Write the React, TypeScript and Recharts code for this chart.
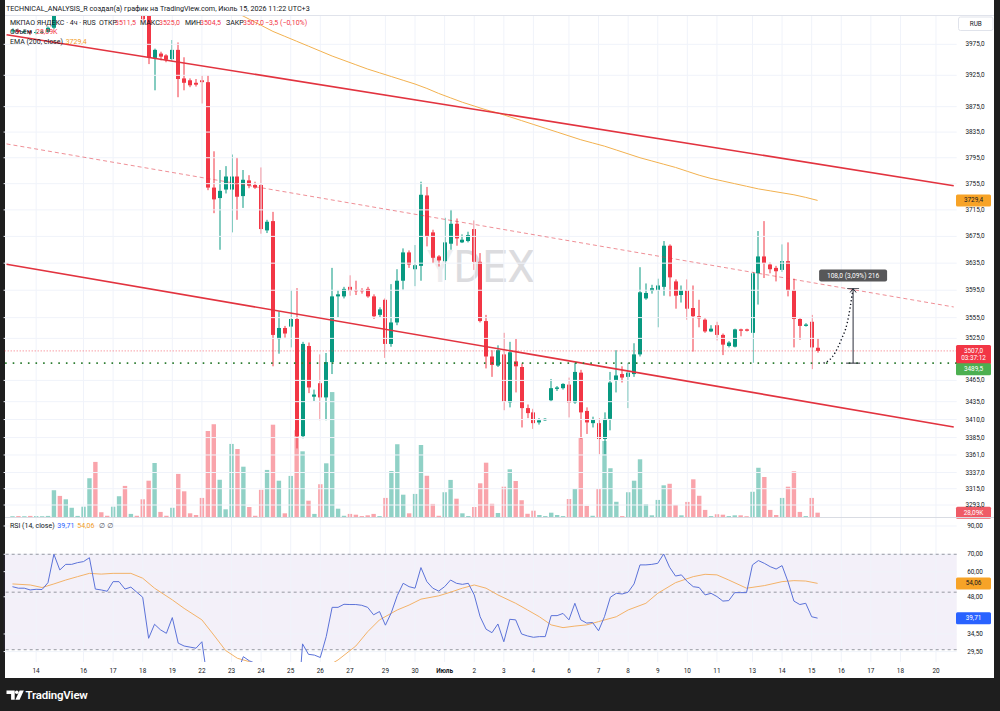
import React from 'react';
import {
  ComposedChart,
  Bar,
  Line,
  XAxis,
  YAxis,
  ReferenceLine,
  ReferenceArea,
} from 'recharts';

const FONT = 'Roboto, "Noto Sans", "DejaVu Sans", sans-serif';
const TEXT = '#131722';
const GREEN = '#089981';
const RED = '#f23645';
const VOL_GREEN = 'rgba(8,153,129,0.45)';
const VOL_RED = 'rgba(242,54,69,0.45)';
const EMA_COLOR = '#f2b14f';
const ORANGE_BADGE = '#f7a327';
const RSI_COLOR = '#5b72d8';
const RSI_MA_COLOR = '#f3b268';
const GRID = '#f0f3fa';
const TREND = '#e2333f';

// ---- 4h candles, YDEX (index 0 .. 136) ----
const OPEN = [
  3996, 3998, 3995, 3996, 3994, 3995, 3995, 4002, 4075, 4045,
  4060, 4061, 4064, 4068, 4080, 4040, 4038, 4036, 4048, 4049,
  4040, 4043, 4038, 4022, 3953, 3960, 3957, 3951, 3966, 3920,
  3917, 3913, 3917, 3914, 3749, 3733, 3746, 3746, 3766, 3736,
  3760, 3753, 3753, 3684, 3698, 3524, 3540, 3542, 3553, 3387,
  3514, 3442, 3461, 3441, 3491, 3586, 3586, 3600, 3595, 3595,
  3597, 3586, 3559, 3581, 3517, 3548, 3609, 3651, 3626, 3631,
  3737, 3681, 3645, 3638, 3664, 3694, 3666, 3668, 3686, 3637,
  3550, 3499, 3486, 3502, 3434, 3492, 3484, 3426, 3420, 3406,
  3409, 3437, 3453, 3454, 3459, 3434, 3476, 3422, 3405, 3405,
  3383, 3411, 3465, 3474, 3470, 3474, 3502, 3583, 3594, 3595,
  3600, 3661, 3608, 3588, 3595, 3569, 3557, 3552, 3535, 3544,
  3530, 3514, 3513, 3538, 3538, 3533, 3620, 3645, 3633, 3628,
  3625, 3638, 3595, 3553, 3543, 3549, 3511.5,
];
const HIGH = [
  4001, 4000, 3999, 3998, 3999, 3998, 4004, 4085, 4080, 4066,
  4066, 4067, 4072, 4088, 4082, 4044, 4041, 4052, 4054, 4052,
  4046, 4045, 4042, 4028, 3968, 3963, 3959, 3982, 3978, 3954,
  3920, 3919, 3925, 3925, 3805, 3776, 3782, 3800, 3795, 3776,
  3768, 3758, 3780, 3700, 3712, 3564, 3543, 3595, 3598, 3520,
  3519, 3452, 3502, 3504, 3628, 3595, 3600, 3617, 3609, 3598,
  3600, 3589, 3570, 3583, 3604, 3626, 3657, 3654, 3662, 3758,
  3750, 3685, 3647, 3703, 3715, 3702, 3678, 3682, 3699, 3650,
  3559, 3508, 3515, 3533, 3520, 3524, 3489, 3431, 3425, 3412,
  3412, 3467, 3457, 3461, 3469, 3490, 3480, 3427, 3414, 3412,
  3420, 3477, 3508, 3485, 3490, 3518, 3629, 3605, 3603, 3612,
  3668, 3663, 3611, 3602, 3611, 3602, 3581, 3554, 3544, 3549,
  3532, 3521, 3539, 3539, 3539, 3622, 3683, 3698, 3636, 3631,
  3663, 3666, 3612, 3554, 3547, 3559, 3525,
];
const LOW = [
  3993, 3992, 3993, 3990, 3991, 3992, 3994, 4000, 4038, 4040,
  4055, 4058, 4060, 4064, 4035, 4034, 4033, 4034, 4043, 4036,
  4038, 4034, 4010, 3943, 3901, 3949, 3946, 3948, 3890, 3901,
  3906, 3907, 3880, 3745, 3710, 3655, 3740, 3681, 3700, 3718,
  3748, 3747, 3679, 3680, 3485, 3503, 3526, 3512, 3370, 3384,
  3447, 3436, 3409, 3409, 3474, 3555, 3583, 3587, 3588, 3590,
  3584, 3553, 3556, 3497, 3513, 3544, 3596, 3628, 3601, 3609,
  3660, 3635, 3630, 3610, 3655, 3661, 3665, 3666, 3625, 3548,
  3482, 3470, 3484, 3423, 3427, 3448, 3399, 3412, 3397, 3403,
  3408, 3435, 3450, 3452, 3413, 3432, 3383, 3390, 3399, 3362,
  3362, 3395, 3448, 3462, 3426, 3470, 3499, 3581, 3590, 3541,
  3587, 3586, 3568, 3577, 3552, 3506, 3541, 3533, 3534, 3522,
  3501, 3512, 3512, 3528, 3535, 3490, 3574, 3613, 3620, 3608,
  3622, 3586, 3512, 3523, 3542, 3481, 3504.5,
];
const CLOSE = [
  3998, 3995, 3996, 3994, 3995, 3995.5, 4002, 4075, 4045, 4060,
  4061, 4064, 4068, 4080, 4040, 4038, 4036, 4048, 4049, 4040,
  4043, 4038, 4016, 3954, 3966, 3955, 3950, 3966, 3919, 3913,
  3909, 3910, 3914, 3749, 3731, 3744, 3766, 3766, 3735, 3761,
  3752, 3749, 3686, 3697, 3530, 3540, 3532, 3553, 3387, 3517,
  3455, 3445, 3441, 3491, 3586, 3589, 3597, 3594, 3594, 3594,
  3586, 3557, 3567, 3517, 3548, 3609, 3651, 3633, 3632, 3738,
  3675, 3643, 3639, 3666, 3694, 3672, 3670, 3677, 3637, 3550,
  3499, 3487, 3508, 3435, 3505, 3485, 3426, 3419, 3405, 3409,
  3411, 3454, 3455, 3460, 3434, 3477, 3420, 3406, 3410, 3383,
  3411, 3462, 3472, 3469, 3476, 3502, 3592, 3591, 3598, 3602,
  3661, 3614, 3587, 3595, 3568, 3557, 3554, 3535, 3539, 3530,
  3516, 3519, 3538, 3536, 3536, 3620, 3645, 3635, 3626, 3623,
  3638, 3595, 3553, 3543, 3545, 3512, 3507,
];
// volume, thousands of shares
const VOLUME = [
  5, 6, 5, 7, 6, 5, 7, 174, 137, 115,
  60, 7, 67, 252, 358, 31, 8, 67, 135, 202,
  20, 8, 115, 236, 351, 33, 8, 60, 280, 167,
  24, 13, 124, 559, 603, 242, 50, 475, 442, 327,
  65, 8, 177, 306, 600, 236, 24, 267, 564, 427,
  106, 20, 213, 349, 812, 54, 8, 20, 15, 6,
  11, 20, 6, 124, 299, 473, 145, 24, 150, 468,
  268, 85, 8, 161, 241, 119, 24, 6, 65, 219,
  353, 86, 26, 197, 310, 234, 109, 21, 41, 13,
  6, 28, 13, 6, 117, 182, 515, 72, 8, 182,
  494, 317, 99, 6, 161, 236, 375, 83, 11, 111,
  206, 216, 78, 11, 98, 245, 138, 46, 6, 18,
  15, 6, 11, 11, 5, 164, 320, 260, 46, 13,
  124, 197, 297, 33, 6, 124, 28.09,
];
// RSI(14, close)
const RSI = [
  52.5, 51.8, 51.8, 51.0, 51.3, 51.2, 54.4, 70.0, 60.9, 64.0,
  64.0, 65.0, 65.6, 67.9, 51.4, 51.0, 50.4, 54.9, 54.9, 51.4,
  52.3, 50.0, 47.8, 33.2, 37.6, 35.8, 34.7, 39.9, 31.8, 31.0,
  30.7, 30.4, 32.2, 22.5, 21.0, 22.8, 25.0, 25.8, 24.5, 28.2,
  27.2, 26.6, 22.4, 23.5, 16.5, 19.0, 18.6, 21.5, 15.2, 31.6,
  28.8, 28.6, 28.0, 33.7, 43.7, 43.7, 44.9, 44.8, 44.8, 44.5,
  43.7, 40.9, 42.1, 37.3, 41.7, 48.5, 54.1, 52.5, 51.8, 62.2,
  54.9, 51.8, 50.5, 52.5, 55.7, 54.1, 53.6, 54.1, 48.8, 40.2,
  36.0, 34.9, 37.7, 32.2, 39.3, 39.1, 34.5, 33.9, 33.5, 33.7,
  33.7, 40.6, 40.6, 41.4, 39.1, 45.3, 39.1, 38.0, 38.2, 35.5,
  40.2, 47.8, 49.5, 49.2, 50.0, 53.8, 63.7, 63.7, 64.0, 64.6,
  70.2, 62.4, 57.7, 58.3, 54.9, 52.5, 52.1, 48.8, 49.5, 48.1,
  46.2, 46.4, 49.8, 49.8, 49.8, 63.7, 66.2, 64.6, 62.7, 61.4,
  63.3, 54.9, 46.2, 44.8, 45.3, 40.2, 39.71,
];
// EMA(200) readings: [bar index, value]
const EMA_POINTS: [number, number][] = [
  [30, 4062], [34, 4044], [38, 4026], [40, 4016], [42, 4006], [44, 3996], [46, 3988],
  [48, 3980], [50, 3972], [52, 3964], [54, 3956], [56, 3949], [58, 3942], [60, 3935],
  [62, 3929], [64, 3923], [66, 3917], [68, 3911], [70, 3904], [72, 3896], [74, 3889],
  [76, 3882], [78, 3876], [80, 3870], [82, 3865], [84, 3859], [86, 3853], [88, 3847],
  [90, 3841], [92, 3835], [94, 3829], [96, 3823], [98, 3818], [100, 3813], [102, 3807],
  [104, 3801], [106, 3795], [108, 3790], [110, 3785], [112, 3780], [114, 3774], [116, 3768],
  [118, 3763], [120, 3759], [122, 3755], [124, 3751], [126, 3747], [128, 3744], [130, 3741],
  [132, 3738], [134, 3734], [136, 3729.4],
];
// RSI-based MA readings: [bar index, value]
const RSI_MA_POINTS: [number, number][] = [
  [0, 53.8], [3, 53.3], [5, 52.1], [7, 53.8], [9, 55.7], [11, 57.4], [13, 59.1], [15, 58.7],
  [17, 59.1], [20, 59.1], [22, 56.6], [24, 51.8], [27, 46.7], [29, 43.3], [32, 39.1], [34, 34.2],
  [36, 29.8], [38, 27.8], [40, 27.0], [44, 24.5], [48, 23.5], [52, 25.0], [55, 27.4], [58, 31.0],
  [60, 35.2], [62, 39.1], [65, 42.7], [67, 44.6], [69, 47.0], [72, 48.4], [74, 50.0], [76, 51.8],
  [78, 53.3], [80, 51.8], [82, 48.8], [85, 45.3], [87, 42.7], [89, 40.2], [91, 37.4], [93, 36.5],
  [95, 37.0], [97, 37.4], [99, 38.5], [102, 40.2], [104, 42.7], [107, 45.3], [109, 49.5], [112, 54.4],
  [115, 57.4], [117, 58.6], [119, 58.3], [121, 55.7], [124, 51.8], [127, 53.0], [130, 54.9], [132, 55.4],
  [134, 55.2], [136, 54.06],
];

// time scale labels: [bar index, text]
const DAY_TICKS: [number, string][] = [
  [4, '14'], [12, '16'], [17, '17'], [22, '18'], [27, '19'], [32, '22'], [37, '23'], [42, '24'],
  [47, '25'], [52, '26'], [57, '27'], [63, '29'], [68, '30'], [73, 'Июль'], [78, '2'], [83, '3'],
  [88, '4'], [94, '6'], [99, '7'], [104, '8'], [109, '9'], [114, '10'], [119, '11'], [125, '13'],
  [130, '14'], [135, '15'], [140, '16'], [145, '17'], [150, '18'], [156, '20'],
];
const PRICE_TICKS = [
  3975, 3925, 3875, 3835, 3795, 3755, 3715, 3675, 3635, 3595, 3555, 3525,
  3465, 3435, 3410, 3385, 3361, 3337, 3315, 3293,
];
const RSI_TICKS = [90, 70, 60, 48, 34.5, 29.5];
const RSI_LEVELS = [70, 50, 30];

// channel drawn on the chart: [bar index, price] end points
const CHANNEL_UPPER: [number, number][] = [[-1, 3990.7], [159, 3751.9]];
const CHANNEL_MIDDLE: [number, number][] = [[-1, 3816.5], [159, 3570.5]];
const CHANNEL_LOWER: [number, number][] = [[-1, 3633.4], [159, 3399.6]];

// price range measurement + curved projection arrow
const MEASURE = { index: 142, from: 3489.5, to: 3597.5, text: '108,0 (3,09%) 216' };
const ARC_POINTS: [number, number][] = [
  [137, 3489.5], [138, 3494], [139, 3505], [140, 3523], [141, 3547], [142, 3597.5],
];

const LAST_PRICE = 3507;
const LEVEL_LINE = 3489.5;
const EMA_LAST = 3729.4;
const VOLUME_LAST = 28.09;
const RSI_LAST = 39.71;
const RSI_MA_LAST = 54.06;

const FIRST_SLOT = -1;
const LAST_SLOT = 159;

// ---- layout ----
const PLOT_LEFT = 3.58;
const AXIS_W = 43.3;
const PRICE_DOMAIN: [number, number] = [3276.9, 4022.9];
const RSI_DOMAIN: [number, number] = [26.9, 96.6];
const VOLUME_MAX = 3263;

const fmt = (v: number, d: number) => v.toFixed(d).replace('.', ',');

const emaMap = new Map(EMA_POINTS);
const rsiMaMap = new Map(RSI_MA_POINTS);
const arcMap = new Map(ARC_POINTS);
const dayMap = new Map(DAY_TICKS);

const rows: any[] = [];
for (let i = FIRST_SLOT; i <= LAST_SLOT; i++) {
  const has = i >= 0 && i < OPEN.length;
  rows.push({
    i,
    o: has ? OPEN[i] : null,
    h: has ? HIGH[i] : null,
    l: has ? LOW[i] : null,
    c: has ? CLOSE[i] : null,
    range: has ? [LOW[i], HIGH[i]] : null,
    vol: has ? VOLUME[i] : null,
    rsi: has ? RSI[i] : null,
    ema: emaMap.has(i) ? emaMap.get(i) : null,
    rsiMa: rsiMaMap.has(i) ? rsiMaMap.get(i) : null,
    arc: arcMap.has(i) ? arcMap.get(i) : null,
  });
}

const Candle = (p: any) => {
  const d = p.payload;
  if (!d || d.o == null || !isFinite(p.y) || !isFinite(p.height)) return <g />;
  const top = Math.min(p.y, p.y + p.height);
  const bottom = Math.max(p.y, p.y + p.height);
  const lh = Math.log(d.h);
  const ll = Math.log(d.l);
  const toY = (v: number) => (lh === ll ? top : top + ((bottom - top) * (lh - Math.log(v))) / (lh - ll));
  const color = d.c >= d.o ? GREEN : RED;
  const cx = p.x + p.width / 2;
  const bx = Math.round(cx - 2);
  const yo = toY(d.o);
  const yc = toY(d.c);
  const bt = Math.min(yo, yc);
  const bb = Math.max(yo, yc);
  return (
    <g>
      <line x1={bx + 2} x2={bx + 2} y1={top} y2={bottom} stroke={color} strokeWidth={1} />
      <rect x={bx} y={bt} width={4} height={Math.max(bb - bt, 1)} fill={color} />
    </g>
  );
};

const VolumeBar = (p: any) => {
  const d = p.payload;
  if (!d || d.vol == null || !isFinite(p.y) || !p.height) return <g />;
  const cx = p.x + p.width / 2;
  return (
    <rect x={cx - 2.2} y={p.y} width={4.4} height={p.height} fill={d.c >= d.o ? VOL_GREEN : VOL_RED} />
  );
};

const Empty = () => <g />;

const PriceTick = (p: any) => (
  <text x={975} y={p.y} textAnchor="middle" dominantBaseline="central" fontSize={6.4} fill={TEXT} fontFamily={FONT}>
    {fmt(p.payload.value, 1)}
  </text>
);

const RsiTick = (p: any) => (
  <text x={975} y={p.y} textAnchor="middle" dominantBaseline="central" fontSize={6.4} fill={TEXT} fontFamily={FONT}>
    {fmt(p.payload.value, 2)}
  </text>
);

const DayTick = (p: any) => {
  const label = dayMap.get(p.payload.value) ?? '';
  return (
    <text
      x={p.x}
      y={153}
      textAnchor="middle"
      dominantBaseline="central"
      fontSize={6.4}
      fontWeight={label === 'Июль' ? 700 : 400}
      fill={TEXT}
      fontFamily={FONT}
    >
      {label}
    </text>
  );
};

type BadgeSpec = {
  lines: string[];
  bg: string;
  fg: string;
  shift?: number;
  stroke?: string;
  dash?: string;
  width?: number;
  opacity?: number;
};

// horizontal line across the pane with a value badge on the scale
const priceLine = (b: BadgeSpec) => (p: any) => {
  const { x1, x2, y1 } = p;
  if (!isFinite(y1)) return <g />;
  const cy = y1 + (b.shift ?? 0);
  const h = 12 + (b.lines.length - 1) * 7.5;
  return (
    <g>
      {b.stroke && (
        <line
          x1={x1}
          x2={x2}
          y1={y1}
          y2={y1}
          stroke={b.stroke}
          strokeDasharray={b.dash}
          strokeWidth={b.width ?? 1}
          strokeOpacity={b.opacity ?? 1}
        />
      )}
      <rect x={956} y={cy - 6} width={35} height={h} rx={1.5} fill={b.bg} />
      {b.lines.map((t, k) => (
        <text
          key={k}
          x={973.5}
          y={cy + k * 7.5}
          textAnchor="middle"
          dominantBaseline="central"
          fontSize={6.4}
          fill={b.fg}
          fontFamily={FONT}
        >
          {t}
        </text>
      ))}
    </g>
  );
};

const MeasureShape = (p: any) => {
  const x = p.x1;
  const yTop = Math.min(p.y1, p.y2);
  const yBot = Math.max(p.y1, p.y2);
  const ink = '#2a2e39';
  return (
    <g>
      <line x1={x} x2={x} y1={yTop} y2={yBot} stroke={ink} strokeWidth={1} />
      <line x1={x - 7} x2={x + 7} y1={yBot} y2={yBot} stroke={ink} strokeWidth={1} />
      <line x1={x - 6} x2={x + 6} y1={yTop} y2={yTop} stroke={ink} strokeWidth={0.8} />
      <path d={`M${x - 3},${yTop + 4} L${x},${yTop} L${x + 3},${yTop + 4}`} fill="none" stroke={ink} strokeWidth={1} />
      <rect x={x - 34} y={yTop - 19} width={68} height={12} rx={2} fill="#4a4a4c" fillOpacity={0.93} />
      <text x={x} y={yTop - 13} textAnchor="middle" dominantBaseline="central" fontSize={6.6} fill="#ffffff" fontFamily={FONT}>
        {MEASURE.text}
      </text>
    </g>
  );
};

const seg = (pts: [number, number][]) => pts.map(([x, y]) => ({ x, y }));

function MainPane() {
  return (
    <ComposedChart
      width={1000}
      height={520}
      data={rows}
      margin={{ top: 15, right: 0, bottom: 3, left: PLOT_LEFT }}
      barCategoryGap={0}
      barGap={0}
    >
      <XAxis xAxisId="c" dataKey="i" type="category" scale="band" allowDuplicatedCategory={false} hide />
      <XAxis xAxisId="v" dataKey="i" type="category" scale="band" allowDuplicatedCategory={false} hide />
      <YAxis
        yAxisId="p"
        orientation="right"
        width={AXIS_W}
        scale="log"
        domain={PRICE_DOMAIN}
        allowDataOverflow
        ticks={PRICE_TICKS}
        interval={0}
        tick={PriceTick}
        axisLine={false}
        tickLine={false}
      />
      <YAxis yAxisId="vol" hide domain={[0, VOLUME_MAX]} allowDataOverflow />

      {DAY_TICKS.map(([idx]) => (
        <ReferenceLine key={`vx${idx}`} xAxisId="c" yAxisId="p" x={idx} stroke={GRID} strokeWidth={1} />
      ))}
      {PRICE_TICKS.map((v) => (
        <ReferenceLine key={`hy${v}`} xAxisId="c" yAxisId="p" y={v} stroke={GRID} strokeWidth={1} />
      ))}

      <Bar xAxisId="v" yAxisId="vol" dataKey="vol" shape={VolumeBar} isAnimationActive={false} />
      <Line
        xAxisId="c"
        yAxisId="p"
        dataKey="ema"
        stroke={EMA_COLOR}
        strokeWidth={1}
        dot={false}
        connectNulls
        isAnimationActive={false}
      />
      <Bar xAxisId="c" yAxisId="p" dataKey="range" shape={Candle} isAnimationActive={false} />

      <ReferenceLine xAxisId="c" yAxisId="p" segment={seg(CHANNEL_UPPER)} stroke={TREND} strokeWidth={1.6} ifOverflow="visible" />
      <ReferenceLine
        xAxisId="c"
        yAxisId="p"
        segment={seg(CHANNEL_MIDDLE)}
        stroke={TREND}
        strokeOpacity={0.55}
        strokeWidth={1}
        strokeDasharray="4 3"
        ifOverflow="visible"
      />
      <ReferenceLine xAxisId="c" yAxisId="p" segment={seg(CHANNEL_LOWER)} stroke={TREND} strokeWidth={1.6} ifOverflow="visible" />

      <ReferenceLine
        xAxisId="c"
        yAxisId="p"
        y={EMA_LAST}
        shape={priceLine({ lines: [fmt(EMA_LAST, 1)], bg: ORANGE_BADGE, fg: TEXT })}
      />
      <ReferenceLine
        xAxisId="c"
        yAxisId="p"
        y={LAST_PRICE}
        shape={priceLine({
          lines: [fmt(LAST_PRICE, 1), '03:37:12'],
          bg: RED,
          fg: '#ffffff',
          stroke: RED,
          dash: '1 2',
          opacity: 0.7,
        })}
      />
      <ReferenceLine
        xAxisId="c"
        yAxisId="p"
        y={LEVEL_LINE}
        shape={priceLine({
          lines: [fmt(LEVEL_LINE, 1)],
          bg: '#4caf50',
          fg: '#ffffff',
          shift: 6,
          stroke: '#2e7d32',
          dash: '1.6 6',
          width: 1.6,
        })}
      />
      <ReferenceLine
        xAxisId="v"
        yAxisId="vol"
        y={VOLUME_LAST}
        shape={priceLine({ lines: [`${fmt(VOLUME_LAST, 2)}K`], bg: '#ef5b66', fg: '#ffffff' })}
      />

      <Line
        xAxisId="c"
        yAxisId="p"
        dataKey="arc"
        type="monotone"
        stroke={TEXT}
        strokeWidth={1.4}
        strokeDasharray="1.3 2.4"
        dot={false}
        isAnimationActive={false}
      />
      <ReferenceLine
        xAxisId="c"
        yAxisId="p"
        segment={[
          { x: MEASURE.index, y: MEASURE.from },
          { x: MEASURE.index, y: MEASURE.to },
        ]}
        shape={MeasureShape}
        ifOverflow="visible"
      />
    </ComposedChart>
  );
}

function RsiPane() {
  return (
    <ComposedChart
      width={1000}
      height={162}
      data={rows}
      margin={{ top: 0, right: 0, bottom: 0, left: PLOT_LEFT }}
      barCategoryGap={0}
      barGap={0}
    >
      <XAxis
        dataKey="i"
        type="category"
        scale="band"
        allowDuplicatedCategory={false}
        ticks={DAY_TICKS.map((d) => d[0])}
        interval={0}
        tick={DayTick}
        axisLine={false}
        tickLine={false}
        height={18}
      />
      <YAxis
        yAxisId="r"
        orientation="right"
        width={AXIS_W}
        scale="log"
        domain={RSI_DOMAIN}
        allowDataOverflow
        ticks={RSI_TICKS}
        interval={0}
        tick={RsiTick}
        axisLine={false}
        tickLine={false}
      />
      <ReferenceArea yAxisId="r" y1={30} y2={70} fill="#7e57c2" fillOpacity={0.09} stroke="none" />
      {DAY_TICKS.map(([idx]) => (
        <ReferenceLine key={`rvx${idx}`} yAxisId="r" x={idx} stroke={GRID} strokeWidth={1} />
      ))}
      {RSI_TICKS.map((v) => (
        <ReferenceLine key={`rhy${v}`} yAxisId="r" y={v} stroke={GRID} strokeWidth={1} />
      ))}
      {RSI_LEVELS.map((v) => (
        <ReferenceLine key={`lvl${v}`} yAxisId="r" y={v} stroke="#787b86" strokeOpacity={0.75} strokeDasharray="3 3" />
      ))}
      <Bar yAxisId="r" dataKey="rsi" shape={Empty} isAnimationActive={false} />
      <Line
        yAxisId="r"
        dataKey="rsiMa"
        stroke={RSI_MA_COLOR}
        strokeWidth={1}
        dot={false}
        connectNulls
        isAnimationActive={false}
      />
      <Line yAxisId="r" dataKey="rsi" stroke={RSI_COLOR} strokeWidth={1} dot={false} isAnimationActive={false} />
      <ReferenceLine
        yAxisId="r"
        y={RSI_MA_LAST}
        shape={priceLine({ lines: [fmt(RSI_MA_LAST, 2)], bg: ORANGE_BADGE, fg: TEXT })}
      />
      <ReferenceLine
        yAxisId="r"
        y={RSI_LAST}
        shape={priceLine({ lines: [fmt(RSI_LAST, 2)], bg: '#2962ff', fg: '#ffffff' })}
      />
    </ComposedChart>
  );
}

function Overlay() {
  const fs = 7;
  return (
    <svg
      width={1000}
      height={711}
      style={{ position: 'absolute', left: 0, top: 0, pointerEvents: 'none' }}
      fontFamily={FONT}
    >
      <line x1={5} x2={994} y1={15.5} y2={15.5} stroke="#e0e3eb" strokeWidth={1} />
      <line x1={5} x2={994} y1={517.5} y2={517.5} stroke="#d9dce3" strokeWidth={1} />

      <text x={6} y={8} dominantBaseline="central" fontSize={7.2} fill={TEXT}>
        TECHNICAL_ANALYSIS_R создал(а) график на TradingView.com, Июль 15, 2026 11:22 UTC+3
      </text>

      <g fontSize={fs} dominantBaseline="central">
        <text x={10} y={23.3} fill={TEXT}>МКПАО ЯНДЕКС · 4ч · RUS</text>
        <text x={99} y={23.3} fill={TEXT}>ОТКР</text>
        <text x={115} y={23.3} fill={RED}>3511,5</text>
        <text x={140} y={23.3} fill={TEXT}>МАКС</text>
        <text x={159} y={23.3} fill={RED}>3525,0</text>
        <text x={185} y={23.3} fill={TEXT}>МИН</text>
        <text x={200} y={23.3} fill={RED}>3504,5</text>
        <text x={226} y={23.3} fill={TEXT}>ЗАКР</text>
        <text x={243} y={23.3} fill={RED}>3507,0</text>
        <text x={265} y={23.3} fill={RED}>−3,5 (−0,10%)</text>

        <text x={10} y={32.3} fill={TEXT}>Объём</text>
        <text x={36} y={32.3} fill={RED}>28,09K</text>

        <text x={10} y={41.7} fill={TEXT}>EMA (200, close)</text>
        <text x={65.7} y={41.7} fill="#f29d1e">3729,4</text>

        <text x={10} y={525.7} fill={TEXT}>RSI (14, close)</text>
        <text x={57.3} y={525.7} fill="#2962ff">39,71</text>
        <text x={77.3} y={525.7} fill="#f29d1e">54,06</text>
        <text x={99} y={525.7} fill="#50535e">∅</text>
        <text x={107.3} y={525.7} fill="#50535e">∅</text>
      </g>

      <rect x={958.5} y={17} width={34.5} height={13.5} rx={2} fill="#ffffff" stroke="#e0e3eb" />
      <text x={975.8} y={23.8} textAnchor="middle" dominantBaseline="central" fontSize={6.4} fill={TEXT}>
        RUB
      </text>

      <g fill="#ffffff">
        <path d="M6.5 690.5 h8.2 v9.3 h-3.6 v-5.7 h-4.6 z" />
        <circle cx={16.8} cy={692.3} r={1.8} />
        <path d="M19.6 690.5 h4.2 l-4.2 9.3 h-4.2 z" />
        <text x={25.5} y={695.3} dominantBaseline="central" fontSize={11.5} fontWeight={600} letterSpacing={-0.2}>
          TradingView
        </text>
      </g>
    </svg>
  );
}

export default function App() {
  return (
    <div
      style={{
        position: 'fixed',
        left: 0,
        top: 0,
        width: 1000,
        height: 711,
        background: '#1e1e1e',
        overflow: 'hidden',
        fontFamily: FONT,
      }}
    >
      <div style={{ position: 'absolute', left: 5, top: 0, width: 989, height: 678, background: '#ffffff' }} />
      <svg width={1000} height={711} style={{ position: 'absolute', left: 0, top: 0 }} fontFamily={FONT}>
        <text x={481} y={267} textAnchor="middle" dominantBaseline="central" fontSize={44}>
          <tspan fill="#ededef">Y</tspan>
          <tspan fill="#dcdcdf">DEX</tspan>
        </text>
      </svg>
      <div style={{ position: 'absolute', left: 0, top: 0 }}>
        <MainPane />
      </div>
      <div style={{ position: 'absolute', left: 0, top: 518 }}>
        <RsiPane />
      </div>
      <Overlay />
    </div>
  );
}
